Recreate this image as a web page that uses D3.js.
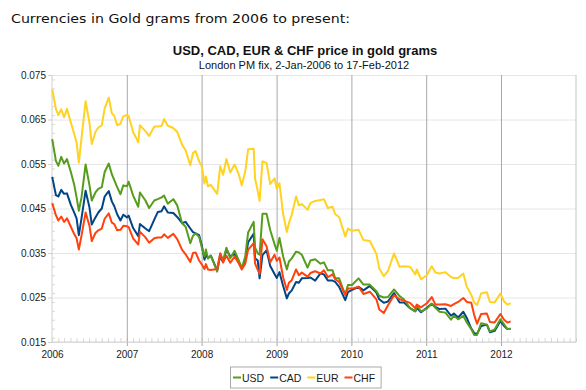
<!DOCTYPE html>
<html><head><meta charset="utf-8">
<script src="https://cdn.jsdelivr.net/npm/d3@7"></script>
<style>body{margin:0;background:#fff}svg{display:block}</style>
</head><body>
<svg id="c" width="586" height="390"></svg>
<script>
const dates = [
"2006-01-02","2006-01-20","2006-02-01","2006-02-15","2006-03-01","2006-03-15","2006-04-03","2006-04-20","2006-05-01","2006-05-12","2006-05-25","2006-06-14","2006-07-03","2006-07-14","2006-08-01","2006-08-15","2006-09-01","2006-09-15","2006-10-05","2006-10-20","2006-11-01","2006-11-15","2006-12-01","2006-12-15",
"2007-01-02","2007-01-10","2007-02-01","2007-02-26","2007-03-06","2007-04-02","2007-04-20","2007-05-15","2007-06-01","2007-06-20","2007-07-02","2007-07-20","2007-08-16","2007-09-04","2007-09-28","2007-10-15","2007-11-07","2007-11-20","2007-12-03","2007-12-20",
"2008-01-02","2008-01-15","2008-01-22","2008-02-01","2008-02-15","2008-03-17","2008-04-01","2008-04-15","2008-05-01","2008-05-20","2008-06-10","2008-07-01","2008-07-15","2008-08-01","2008-08-15","2008-09-11","2008-09-18","2008-10-01","2008-10-10","2008-10-24","2008-11-13","2008-12-01","2008-12-22",
"2009-01-02","2009-01-15","2009-02-02","2009-02-20","2009-03-02","2009-03-16","2009-04-06","2009-04-20","2009-05-04","2009-06-01","2009-06-15","2009-07-08","2009-08-03","2009-08-20","2009-09-08","2009-10-01","2009-10-14","2009-11-02","2009-12-02","2009-12-15",
"2010-01-04","2010-02-05","2010-03-01","2010-04-01","2010-05-03","2010-05-17","2010-06-08","2010-06-28","2010-07-28","2010-08-24","2010-09-14","2010-10-14","2010-11-09","2010-11-16","2010-12-07",
"2011-01-04","2011-01-28","2011-02-15","2011-03-07","2011-04-05","2011-05-02","2011-05-16","2011-06-06","2011-07-01","2011-07-18","2011-08-09","2011-08-23","2011-09-06","2011-09-26","2011-10-24","2011-11-08","2011-12-01","2011-12-29",
"2012-01-16","2012-02-01","2012-02-17"];

const usd = [
0.0606,0.0557,0.0546,0.0566,0.0551,0.0561,0.0532,0.0502,0.0475,0.0445,0.0475,0.0549,0.0502,0.0468,0.0486,0.0494,0.0498,0.0532,0.0551,0.0527,0.0514,0.0498,0.0482,0.0502,
0.0500,0.0510,0.0479,0.0454,0.0486,0.0468,0.0451,0.0468,0.0471,0.0475,0.0479,0.0461,0.0471,0.0457,0.0417,0.0409,0.0372,0.0389,0.0394,0.0386,
0.0363,0.0342,0.0358,0.0338,0.0344,0.0308,0.0349,0.0333,0.0362,0.0338,0.0355,0.0333,0.0316,0.0342,0.0396,0.0420,0.0362,0.0349,0.0346,0.0438,0.0438,0.0401,0.0370,
0.0355,0.0384,0.0342,0.0313,0.0331,0.0338,0.0353,0.0351,0.0346,0.0317,0.0333,0.0336,0.0326,0.0329,0.0311,0.0311,0.0293,0.0293,0.0256,0.0278,
0.0278,0.0293,0.0279,0.0279,0.0264,0.0254,0.0250,0.0251,0.0268,0.0253,0.0246,0.0226,0.0219,0.0232,0.0219,
0.0225,0.0236,0.0227,0.0218,0.0216,0.0200,0.0209,0.0201,0.0209,0.0194,0.0179,0.0166,0.0166,0.0192,0.0189,0.0174,0.0178,0.0201,
0.0190,0.0179,0.0179];

const cad = [
0.0521,0.0480,0.0477,0.0492,0.0483,0.0484,0.0458,0.0440,0.0428,0.0390,0.0428,0.0490,0.0452,0.0414,0.0430,0.0441,0.0450,0.0477,0.0489,0.0466,0.0455,0.0437,0.0423,0.0436,
0.0430,0.0434,0.0406,0.0388,0.0415,0.0405,0.0399,0.0425,0.0442,0.0444,0.0455,0.0441,0.0440,0.0431,0.0417,0.0420,0.0405,0.0397,0.0394,0.0390,
0.0367,0.0335,0.0347,0.0338,0.0344,0.0311,0.0343,0.0329,0.0358,0.0342,0.0348,0.0329,0.0316,0.0332,0.0374,0.0393,0.0338,0.0333,0.0293,0.0345,0.0356,0.0321,0.0303,
0.0294,0.0307,0.0276,0.0248,0.0259,0.0266,0.0285,0.0283,0.0293,0.0294,0.0295,0.0288,0.0304,0.0302,0.0288,0.0288,0.0285,0.0274,0.0244,0.0262,
0.0267,0.0274,0.0266,0.0276,0.0261,0.0246,0.0238,0.0241,0.0260,0.0239,0.0239,0.0226,0.0219,0.0227,0.0217,
0.0227,0.0236,0.0229,0.0224,0.0225,0.0209,0.0214,0.0205,0.0218,0.0204,0.0180,0.0170,0.0168,0.0186,0.0189,0.0172,0.0175,0.0197,
0.0186,0.0179,0.0180];

const eur = [
0.0718,0.0674,0.0660,0.0673,0.0655,0.0674,0.0643,0.0617,0.0598,0.0553,0.0608,0.0691,0.0642,0.0595,0.0622,0.0632,0.0637,0.0675,0.0699,0.0664,0.0658,0.0637,0.0641,0.0657,
0.0660,0.0658,0.0622,0.0599,0.0637,0.0624,0.0613,0.0634,0.0634,0.0636,0.0651,0.0636,0.0631,0.0622,0.0593,0.0581,0.0547,0.0575,0.0579,0.0556,
0.0545,0.0506,0.0522,0.0500,0.0503,0.0483,0.0545,0.0526,0.0561,0.0531,0.0549,0.0526,0.0502,0.0533,0.0583,0.0584,0.0517,0.0489,0.0467,0.0556,0.0552,0.0505,0.0518,
0.0494,0.0507,0.0437,0.0397,0.0417,0.0436,0.0477,0.0457,0.0460,0.0447,0.0462,0.0467,0.0469,0.0471,0.0451,0.0454,0.0437,0.0431,0.0387,0.0405,
0.0400,0.0402,0.0379,0.0377,0.0348,0.0315,0.0298,0.0309,0.0349,0.0319,0.0320,0.0319,0.0302,0.0313,0.0291,
0.0300,0.0320,0.0306,0.0304,0.0307,0.0296,0.0294,0.0294,0.0304,0.0274,0.0256,0.0239,0.0233,0.0259,0.0262,0.0240,0.0239,0.0259,
0.0241,0.0234,0.0237];

const chf = [
0.0462,0.0435,0.0423,0.0432,0.0420,0.0428,0.0409,0.0392,0.0383,0.0358,0.0389,0.0441,0.0411,0.0377,0.0395,0.0401,0.0405,0.0427,0.0439,0.0418,0.0415,0.0401,0.0402,0.0411,
0.0410,0.0408,0.0383,0.0369,0.0398,0.0385,0.0373,0.0383,0.0385,0.0385,0.0392,0.0384,0.0393,0.0381,0.0357,0.0347,0.0330,0.0350,0.0351,0.0333,
0.0324,0.0314,0.0325,0.0313,0.0312,0.0314,0.0349,0.0329,0.0344,0.0328,0.0342,0.0326,0.0313,0.0326,0.0357,0.0372,0.0326,0.0312,0.0303,0.0381,0.0365,0.0329,0.0346,
0.0332,0.0340,0.0295,0.0267,0.0283,0.0289,0.0313,0.0300,0.0306,0.0297,0.0305,0.0309,0.0304,0.0311,0.0296,0.0302,0.0291,0.0285,0.0256,0.0270,
0.0270,0.0274,0.0258,0.0263,0.0246,0.0223,0.0215,0.0232,0.0255,0.0246,0.0243,0.0238,0.0226,0.0234,0.0228,
0.0237,0.0251,0.0234,0.0234,0.0235,0.0231,0.0235,0.0240,0.0249,0.0240,0.0238,0.0211,0.0191,0.0213,0.0214,0.0195,0.0194,0.0213,
0.0200,0.0194,0.0196];

const seriesNames = ["USD","CAD","EUR","CHF"];
const seriesValues = [usd, cad, eur, chf];
const seriesColors = ["#579d1c","#004586","#ffd320","#ff420e"];
const drawOrder = [1, 0, 2, 3];
const yTickValues = [0.015,0.025,0.035,0.045,0.055,0.065,0.075];
const xTickYears = [2006,2007,2008,2009,2010,2011,2012];

const pageTitle = "Currencies in Gold grams from 2006 to present:";
const chartTitle = "USD, CAD, EUR & CHF price in gold grams";
const chartSubtitle = "London PM fix, 2-Jan-2006 to 17-Feb-2012";

const svg = d3.select("#c");
const parse = d3.timeParse("%Y-%m-%d");
const L = 52, R = 576, T = 75, B = 342;
const x = d3.scaleTime().domain([new Date(2006,0,1), new Date(2013,0,1)]).range([L, R]);
const y = d3.scaleLinear().domain([0.015, 0.075]).range([B, T]);
const font = "'Liberation Sans', Arial, sans-serif";

// horizontal gridlines
const hg = svg.append("g").attr("transform", `translate(${L},0)`)
  .call(d3.axisLeft(y).tickValues(yTickValues).tickSize(-(R - L)).tickFormat(""));
hg.select(".domain").remove();
hg.selectAll("line").attr("stroke", "#e6e6e6");

// minor ticks on left axis (inside)
const ym = svg.append("g").attr("transform", `translate(${L},0)`)
  .call(d3.axisRight(y).ticks(30).tickSize(3).tickFormat(""));
ym.select(".domain").remove();
ym.selectAll("line").attr("stroke", "#d8d8d8");

// minor monthly ticks on bottom axis (inside)
const xm = svg.append("g").attr("transform", `translate(0,${B})`)
  .call(d3.axisTop(x).ticks(d3.timeMonth.every(1)).tickSize(4).tickFormat(""));
xm.select(".domain").remove();
xm.selectAll("line").attr("stroke", "#d8d8d8");

// vertical year gridlines
const vg = svg.append("g").attr("transform", `translate(0,${B + 4})`)
  .call(d3.axisBottom(x).tickValues(xTickYears.slice(1).map(yy => new Date(yy,0,1))).tickSize(-(B - T + 4)).tickFormat(""));
vg.select(".domain").remove();
vg.selectAll("line").attr("stroke", "#a8a8a8");

// frame lines
svg.append("line").attr("x1", L).attr("x2", L).attr("y1", T).attr("y2", B).attr("stroke", "#d0d0d0");
svg.append("line").attr("x1", R).attr("x2", R).attr("y1", T).attr("y2", B).attr("stroke", "#c4c4c4");
svg.append("line").attr("x1", L).attr("x2", R).attr("y1", B).attr("y2", B).attr("stroke", "#d0d0d0");

// y axis labels
const ya = svg.append("g").attr("transform", `translate(${L},0)`)
  .call(d3.axisLeft(y).tickValues(yTickValues).tickSize(4).tickPadding(2).tickFormat(d3.format(".3f")));
ya.select(".domain").remove();
ya.selectAll("line").attr("stroke", "#d0d0d0");
ya.selectAll("text").attr("font-family", font).attr("font-size", 10).attr("fill", "#1a1a1a");

// x axis labels
const xa = svg.append("g").attr("transform", `translate(0,${B})`)
  .call(d3.axisBottom(x).tickValues(xTickYears.map(yy => new Date(yy,0,1))).tickSize(0).tickPadding(9).tickFormat(d3.timeFormat("%Y")));
xa.select(".domain").remove();
xa.selectAll("text").attr("font-family", font).attr("font-size", 10).attr("fill", "#1a1a1a");

// series lines
const line = d3.line().x(d => x(d.date)).y(d => y(d.v));
drawOrder.forEach(i => {
  const data = dates.map((ds, k) => ({date: parse(ds), v: seriesValues[i][k]}));
  svg.append("path").datum(data).attr("d", line)
    .attr("fill", "none").attr("stroke", seriesColors[i])
    .attr("stroke-width", 2).attr("stroke-linejoin", "round");
});

// titles
svg.append("text").attr("x", 11).attr("y", 23).text(pageTitle)
  .attr("font-family", "'DejaVu Sans', sans-serif").attr("font-size", 13).attr("fill", "#111")
  .attr("textLength", 339).attr("lengthAdjust", "spacingAndGlyphs");
svg.append("text").attr("x", 305).attr("y", 55).attr("text-anchor", "middle").text(chartTitle)
  .attr("font-family", font).attr("font-size", 13).attr("font-weight", "bold").attr("fill", "#111");
svg.append("text").attr("x", 304).attr("y", 69).attr("text-anchor", "middle").text(chartSubtitle)
  .attr("font-family", font).attr("font-size", 11).attr("fill", "#111");

// legend
const lg = svg.append("g");
const box = lg.append("rect").attr("y", 367).attr("height", 21).attr("fill", "#fff").attr("stroke", "#aaaaaa");
let cx = 233;
seriesNames.forEach((n, i) => {
  lg.append("line").attr("x1", cx).attr("x2", cx + 8).attr("y1", 377.5).attr("y2", 377.5)
    .attr("stroke", seriesColors[i]).attr("stroke-width", 2);
  const t = lg.append("text").attr("x", cx + 9).attr("y", 381.5).text(n)
    .attr("font-family", font).attr("font-size", 10.5).attr("fill", "#1a1a1a");
  cx += 9 + t.node().getComputedTextLength() + 6;
});
box.attr("x", 230.5).attr("width", cx - 230.5);
</script>
</body></html>
